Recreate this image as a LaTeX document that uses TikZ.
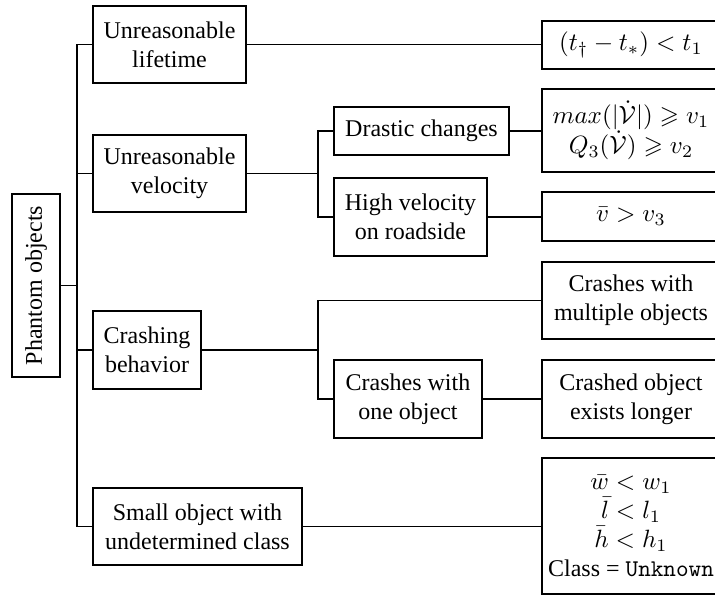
\documentclass[tikz,border=0pt]{standalone}
\usepackage{amsmath,amssymb}
\usepackage{fontspec}
\setmainfont{Liberation Serif}
\begin{document}
\begin{tikzpicture}[x=0.4pt,y=-0.4pt,
  box/.style={draw, line width=0.55pt, inner sep=0pt, align=center,
    font=\fontsize{9.6}{11.6}\selectfont},
  mathbox/.style={box, font=\fontsize{10}{12}\selectfont},
  sz/.style 2 args={minimum width=#1*0.4pt, minimum height=#2*0.4pt},
  link/.style={line width=0.55pt}]
\clip (0,0) rectangle (715,596);
\useasboundingbox (0,0) rectangle (715,596);

% root of the taxonomy
\node[box, rotate=90, sz={183}{48}] (root) at (36,285.5) {Phantom objects};

% first level
\node[box, sz={153}{77}] (life)  at (169.5,44.5) {Unreasonable\\lifetime};
\node[box, sz={153}{77}] (vel)   at (169.5,173.5) {Unreasonable\\velocity};
\node[box, sz={108}{78}] (crash) at (147,350) {Crashing\\behavior};
\node[box, sz={209}{77}] (small) at (197.5,526.5) {Small object with\\undetermined class};

% second level
\node[box, sz={175}{48}] (drastic) at (421.5,131) {Drastic changes};
\node[box, sz={153}{78}] (high)    at (410.5,217) {High velocity\\on roadside};
\node[box, sz={148}{78}] (one)     at (408,399) {Crashes with\\one object};

% conditions
\node[mathbox, sz={178}{48}]  (c1) at (631,45) {$(t_\dagger - t_*) < t_1$};
\node[mathbox, sz={178}{83}]  (c2) at (631,130.5) {$max(|\dot{\mathcal{V}}|) \geqslant v_1$\\$Q_3(\dot{\mathcal{V}}) \geqslant v_2$};
\node[mathbox, sz={178}{49}]  (c3) at (631,216.5) {$\bar{v} > v_3$};
\node[box, sz={178}{77}]  (c4) at (631,300.5) {Crashes with\\multiple objects};
\node[box, sz={178}{78}]  (c5) at (631,399) {Crashed object\\exists longer};
\node[box, sz={178}{136}] (c6) at (631,526) {$\bar{w} < w_1$\\$\bar{l} < l_1$\\$\bar{h} < h_1$\\Class = \texttt{Unknown}};

% junction columns
\coordinate (tk) at (77,0);
\coordinate (st) at (318,0);

% main trunk
\draw[link] (root.south) -- (root.south -| tk);
\draw[link] (life.west) -- (life.west -| tk) -- (small.west -| tk) -- (small.west);
\draw[link] (vel.west) -- (vel.west -| tk);
\draw[link] (crash.west) -- (crash.west -| tk);

% velocity branch
\draw[link] (vel.east) -- (vel.east -| st);
\draw[link] (drastic.west) -- (drastic.west -| st) -- (high.west -| st) -- (high.west);

% crashing branch
\draw[link] (crash.east) -- (crash.east -| st);
\draw[link] (c4.west) -- (c4.west -| st) -- (one.west -| st) -- (one.west);

% links to the conditions
\draw[link] (life.east) -- (life.east -| c1.west);
\draw[link] (drastic.east) -- (drastic.east -| c2.west);
\draw[link] (high.east) -- (high.east -| c3.west);
\draw[link] (one.east) -- (one.east -| c5.west);
\draw[link] (small.east) -- (small.east -| c6.west);
\end{tikzpicture}
\end{document}
